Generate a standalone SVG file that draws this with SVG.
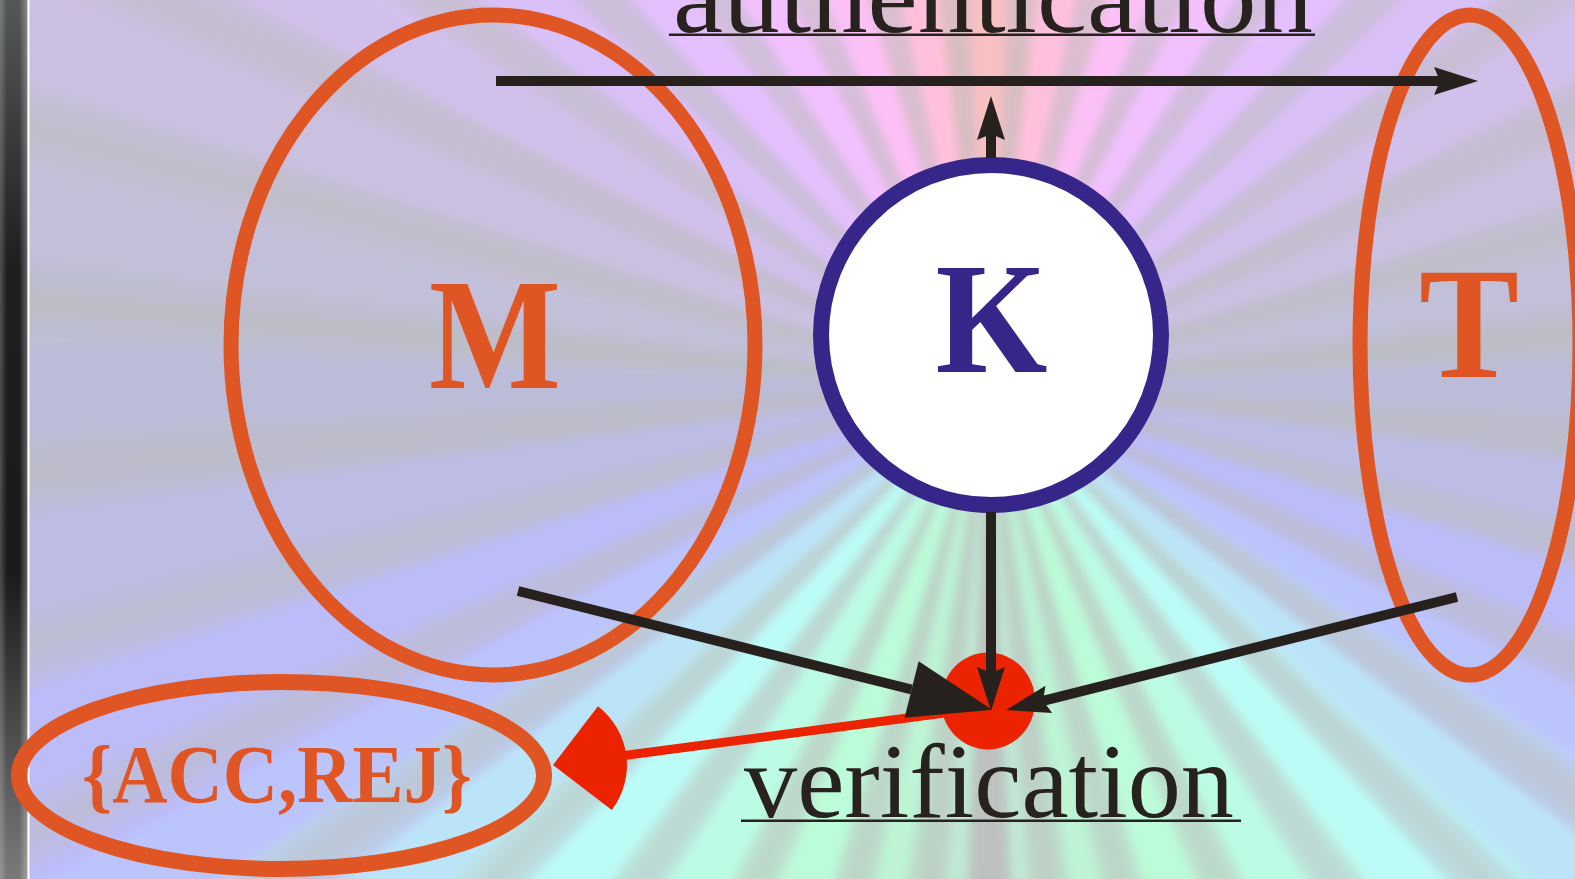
<svg xmlns="http://www.w3.org/2000/svg" xmlns:xlink="http://www.w3.org/1999/xlink" width="1575" height="879" viewBox="0 0 1575 879">
<style>
.orange{fill:none;stroke:#e05524;stroke-width:15}
.big{font-family:"Liberation Serif","DejaVu Serif",serif;font-weight:bold;font-size:158px;text-anchor:middle}
.lbl{font-family:"Liberation Serif","DejaVu Serif",serif;font-size:106px;fill:#28221f}
.ln{fill:none;stroke:#27211e;stroke-width:10}
.ul{fill:#28221f}
</style>
<defs>
<filter id="soft" x="-5%" y="-5%" width="110%" height="110%"><feGaussianBlur stdDeviation="4"/></filter>
<linearGradient id="rayg" x1="0" y1="0" x2="1" y2="0">
<stop offset="0" stop-color="#bcbcbc" stop-opacity="0"/>
<stop offset="0.5" stop-color="#bcbcbc" stop-opacity="0.6"/>
<stop offset="1" stop-color="#bcbcbc" stop-opacity="0"/>
</linearGradient>
<linearGradient id="barv" x1="0" y1="0" x2="0" y2="1">
<stop offset="0" stop-color="#555859"/>
<stop offset="0.3" stop-color="#1f1f1f"/>
<stop offset="0.65" stop-color="#1a1a1a"/>
<stop offset="1" stop-color="#7a7a7a"/>
</linearGradient>
<linearGradient id="barh" x1="0" y1="0" x2="1" y2="0">
<stop offset="0" stop-color="#fff" stop-opacity="0.22"/>
<stop offset="0.25" stop-color="#fff" stop-opacity="0"/>
<stop offset="0.7" stop-color="#fff" stop-opacity="0"/>
<stop offset="1" stop-color="#fff" stop-opacity="0.3"/>
</linearGradient>
<polygon id="cw" points="0,0 -58,-1250 58,-1250"/>
<polygon id="gr" points="0,0 -50,-1250 50,-1250" fill="url(#rayg)"/>
<marker id="ah" markerUnits="userSpaceOnUse" orient="auto" overflow="visible" refX="0" refY="0" markerWidth="1" markerHeight="1">
<path d="M38,0 L-6,-14 L0,0 L-6,14 Z" fill="#27211e"/>
</marker>
<marker id="ahb" markerUnits="userSpaceOnUse" orient="auto" overflow="visible" refX="0" refY="0" markerWidth="1" markerHeight="1">
<path d="M83,0 L0,-29 L0,29 Z" fill="#27211e"/>
</marker>
<marker id="ahr" markerUnits="userSpaceOnUse" orient="auto" overflow="visible" refX="0" refY="0" markerWidth="1" markerHeight="1">
<path d="M70,0 L17.7,-52.3 A74,74 0 0 0 17.7,52.3 Z" fill="#eb2300"/>
</marker>
</defs>

<g id="background">
<rect x="0" y="0" width="1575" height="879" fill="#c0c0d8"/>
<g transform="translate(988,385)" filter="url(#soft)">
<use href="#cw" transform="rotate(0)" fill="#f8c0c0"/>
<use href="#cw" transform="rotate(5)" fill="#fcc0cc"/>
<use href="#cw" transform="rotate(10)" fill="#ffc0dc"/>
<use href="#cw" transform="rotate(15)" fill="#ffc0ea"/>
<use href="#cw" transform="rotate(20)" fill="#fcc0f6"/>
<use href="#cw" transform="rotate(25)" fill="#f8c0fc"/>
<use href="#cw" transform="rotate(30)" fill="#f2c0ff"/>
<use href="#cw" transform="rotate(35)" fill="#eac0ff"/>
<use href="#cw" transform="rotate(40)" fill="#e4c0fe"/>
<use href="#cw" transform="rotate(45)" fill="#dec0fc"/>
<use href="#cw" transform="rotate(50)" fill="#dac0f8"/>
<use href="#cw" transform="rotate(55)" fill="#d6c0f2"/>
<use href="#cw" transform="rotate(60)" fill="#d2c0ec"/>
<use href="#cw" transform="rotate(65)" fill="#cec0e6"/>
<use href="#cw" transform="rotate(70)" fill="#cac0e0"/>
<use href="#cw" transform="rotate(75)" fill="#c6c0dc"/>
<use href="#cw" transform="rotate(80)" fill="#c2c0d8"/>
<use href="#cw" transform="rotate(85)" fill="#bebed8"/>
<use href="#cw" transform="rotate(90)" fill="#bcbcd8"/>
<use href="#cw" transform="rotate(95)" fill="#bcbcdc"/>
<use href="#cw" transform="rotate(100)" fill="#bcbce4"/>
<use href="#cw" transform="rotate(105)" fill="#bcbcee"/>
<use href="#cw" transform="rotate(110)" fill="#bcbcf8"/>
<use href="#cw" transform="rotate(115)" fill="#bcbcfe"/>
<use href="#cw" transform="rotate(120)" fill="#bcc4fc"/>
<use href="#cw" transform="rotate(125)" fill="#bcd4fa"/>
<use href="#cw" transform="rotate(130)" fill="#bce4f8"/>
<use href="#cw" transform="rotate(135)" fill="#bcf4f8"/>
<use href="#cw" transform="rotate(140)" fill="#bcfcf6"/>
<use href="#cw" transform="rotate(145)" fill="#bcfcee"/>
<use href="#cw" transform="rotate(150)" fill="#bcfce4"/>
<use href="#cw" transform="rotate(155)" fill="#bcfcdc"/>
<use href="#cw" transform="rotate(160)" fill="#bcfcd8"/>
<use href="#cw" transform="rotate(165)" fill="#bcf8d6"/>
<use href="#cw" transform="rotate(170)" fill="#bcf4d4"/>
<use href="#cw" transform="rotate(175)" fill="#c0e8d4"/>
<use href="#cw" transform="rotate(180)" fill="#bec8c4"/>
<use href="#cw" transform="rotate(185)" fill="#c0e8d4"/>
<use href="#cw" transform="rotate(190)" fill="#bcf4d4"/>
<use href="#cw" transform="rotate(195)" fill="#bcf8d6"/>
<use href="#cw" transform="rotate(200)" fill="#bcfcd8"/>
<use href="#cw" transform="rotate(205)" fill="#bcfcdc"/>
<use href="#cw" transform="rotate(210)" fill="#bcfce4"/>
<use href="#cw" transform="rotate(215)" fill="#bcfcee"/>
<use href="#cw" transform="rotate(220)" fill="#bcfcf6"/>
<use href="#cw" transform="rotate(225)" fill="#bcf4f8"/>
<use href="#cw" transform="rotate(230)" fill="#bce4f8"/>
<use href="#cw" transform="rotate(235)" fill="#bcd4fa"/>
<use href="#cw" transform="rotate(240)" fill="#bcc4fc"/>
<use href="#cw" transform="rotate(245)" fill="#bcbcfe"/>
<use href="#cw" transform="rotate(250)" fill="#bcbcf8"/>
<use href="#cw" transform="rotate(255)" fill="#bcbcee"/>
<use href="#cw" transform="rotate(260)" fill="#bcbce4"/>
<use href="#cw" transform="rotate(265)" fill="#bcbcdc"/>
<use href="#cw" transform="rotate(270)" fill="#bcbcd8"/>
<use href="#cw" transform="rotate(275)" fill="#bebed8"/>
<use href="#cw" transform="rotate(280)" fill="#c2c0d8"/>
<use href="#cw" transform="rotate(285)" fill="#c6c0dc"/>
<use href="#cw" transform="rotate(290)" fill="#cac0e0"/>
<use href="#cw" transform="rotate(295)" fill="#cec0e6"/>
<use href="#cw" transform="rotate(300)" fill="#d2c0ec"/>
<use href="#cw" transform="rotate(305)" fill="#d6c0f2"/>
<use href="#cw" transform="rotate(310)" fill="#dac0f8"/>
<use href="#cw" transform="rotate(315)" fill="#dec0fc"/>
<use href="#cw" transform="rotate(320)" fill="#e4c0fe"/>
<use href="#cw" transform="rotate(325)" fill="#eac0ff"/>
<use href="#cw" transform="rotate(330)" fill="#f2c0ff"/>
<use href="#cw" transform="rotate(335)" fill="#f8c0fc"/>
<use href="#cw" transform="rotate(340)" fill="#fcc0f6"/>
<use href="#cw" transform="rotate(345)" fill="#ffc0ea"/>
<use href="#cw" transform="rotate(350)" fill="#ffc0dc"/>
<use href="#cw" transform="rotate(355)" fill="#fcc0cc"/>
<use href="#gr" transform="rotate(5)"/>
<use href="#gr" transform="rotate(15)"/>
<use href="#gr" transform="rotate(25)"/>
<use href="#gr" transform="rotate(35)"/>
<use href="#gr" transform="rotate(45)"/>
<use href="#gr" transform="rotate(55)"/>
<use href="#gr" transform="rotate(65)"/>
<use href="#gr" transform="rotate(75)"/>
<use href="#gr" transform="rotate(85)"/>
<use href="#gr" transform="rotate(95)"/>
<use href="#gr" transform="rotate(105)"/>
<use href="#gr" transform="rotate(115)"/>
<use href="#gr" transform="rotate(125)"/>
<use href="#gr" transform="rotate(135)"/>
<use href="#gr" transform="rotate(145)"/>
<use href="#gr" transform="rotate(155)"/>
<use href="#gr" transform="rotate(165)"/>
<use href="#gr" transform="rotate(173)"/>
<use href="#gr" transform="rotate(180)"/>
<use href="#gr" transform="rotate(187)"/>
<use href="#gr" transform="rotate(195)"/>
<use href="#gr" transform="rotate(205)"/>
<use href="#gr" transform="rotate(215)"/>
<use href="#gr" transform="rotate(225)"/>
<use href="#gr" transform="rotate(235)"/>
<use href="#gr" transform="rotate(245)"/>
<use href="#gr" transform="rotate(255)"/>
<use href="#gr" transform="rotate(265)"/>
<use href="#gr" transform="rotate(275)"/>
<use href="#gr" transform="rotate(285)"/>
<use href="#gr" transform="rotate(295)"/>
<use href="#gr" transform="rotate(305)"/>
<use href="#gr" transform="rotate(315)"/>
<use href="#gr" transform="rotate(325)"/>
<use href="#gr" transform="rotate(335)"/>
<use href="#gr" transform="rotate(345)"/>
<use href="#gr" transform="rotate(355)"/>
</g>
</g>

<g id="left-bar">
<rect x="0" y="0" width="27.5" height="879" fill="url(#barv)"/>
<rect x="0" y="0" width="27.5" height="879" fill="url(#barh)"/>
<rect x="27.5" y="0" width="2" height="879" fill="#ffffff"/>
</g>

<g id="node-M">
<ellipse class="orange" cx="493" cy="345" rx="262" ry="330"/>
<text class="big" x="495" y="388" fill="#e05524" textLength="132" lengthAdjust="spacingAndGlyphs">M</text>
</g>

<g id="node-T">
<ellipse class="orange" cx="1470" cy="345" rx="110" ry="330"/>
<text class="big" x="1469" y="377" fill="#e05524" textLength="100" lengthAdjust="spacingAndGlyphs">T</text>
</g>

<g id="node-K">
<circle cx="991" cy="335" r="170" fill="#ffffff" stroke="#36268a" stroke-width="16"/>
<text class="big" x="991.5" y="372" fill="#36268a" textLength="112" lengthAdjust="spacingAndGlyphs">K</text>
</g>

<g id="node-ACCREJ">
<ellipse class="orange" cx="281.5" cy="775.5" rx="262.5" ry="93.5" style="stroke-width:16"/>
<text x="82" y="802" font-family="Liberation Serif, DejaVu Serif, serif" font-weight="bold" font-size="82" fill="#e05524" textLength="390" lengthAdjust="spacingAndGlyphs">{ACC,REJ}</text>
</g>

<g id="node-verifier">
<ellipse cx="988" cy="701" rx="47" ry="48.5" fill="#eb2300"/>
</g>

<g id="connectors">
<path class="ln" d="M496,81 H1440" marker-end="url(#ah)"/>
<path class="ln" d="M991,158 V134" marker-end="url(#ah)"/>
<path d="M990,707 L622.4,755.8" fill="none" stroke="#eb2300" stroke-width="9" marker-end="url(#ahr)"/>
<path class="ln" d="M991,512 V673" marker-end="url(#ah)"/>
<path class="ln" d="M518,591 L911.6,689.5" marker-end="url(#ahb)"/>
<path class="ln" d="M1457,597 L1043,700.8" marker-end="url(#ah)"/>
</g>

<g id="label-authentication">
<text class="lbl" x="673" y="32" textLength="640" lengthAdjust="spacingAndGlyphs">authentication</text>
<rect class="ul" x="669" y="33.5" width="646" height="2.5"/>
</g>

<g id="label-verification">
<text class="lbl" x="744" y="817" textLength="490" lengthAdjust="spacingAndGlyphs">verification</text>
<rect class="ul" x="741" y="819.5" width="500" height="2.5"/>
</g>
</svg>
